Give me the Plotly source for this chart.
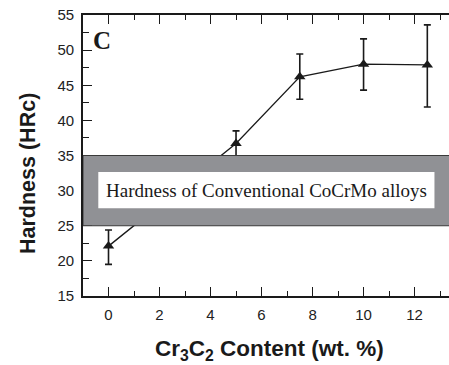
import plotly.graph_objects as go

x_content = [0, 5, 7.5, 10, 12.5]
hardness = [22.1, 36.7, 46.2, 48.0, 47.9]
err_plus = [2.3, 1.8, 3.25, 3.6, 5.7]
err_minus = [2.6, 1.8, 3.2, 3.7, 6.0]

x_ticks = [0, 2, 4, 6, 8, 10, 12]
y_ticks = [15, 20, 25, 30, 35, 40, 45, 50, 55]

band_low, band_high = 25, 35
band_label = "Hardness of Conventional CoCrMo alloys"

fig = go.Figure()
fig.add_trace(go.Scatter(
    x=x_content, y=hardness, mode="lines+markers",
    line=dict(color="#1a1a1a", width=1.3),
    marker=dict(symbol="triangle-up", size=10, color="#1a1a1a"),
    error_y=dict(type="data", array=err_plus, arrayminus=err_minus,
                 color="#1a1a1a", thickness=1.6, width=3.5),
    showlegend=False,
))

# grey band (drawn above data)
fig.add_shape(type="rect", xref="x", yref="y", x0=-1, x1=13.4,
              y0=band_low, y1=band_high, layer="above",
              fillcolor="#909195", line=dict(color="#3a3a3a", width=1))
fig.add_shape(type="rect", xref="x", yref="y", x0=-0.4, x1=12.78,
              y0=27.5, y1=32.65, layer="above",
              fillcolor="white", line=dict(width=0))
fig.add_annotation(x=(-0.4 + 12.78) / 2, y=30.05, xref="x", yref="y",
                   text=band_label, showarrow=False,
                   font=dict(family="Liberation Serif", size=19, color="#1a1a1a"))
fig.add_annotation(x=-0.27, y=51.4, xref="x", yref="y", text="<b>C</b>",
                   showarrow=False, xanchor="center", yanchor="middle",
                   font=dict(family="Liberation Serif", size=25, color="#1a1a1a"))

fig.update_layout(
    width=449, height=365,
    margin=dict(l=83, r=0, t=15, b=69),
    paper_bgcolor="white", plot_bgcolor="white",
    font=dict(family="Liberation Sans", color="#222"),
)
plot_w = 449 - 83
plot_h = 365 - 15 - 69
fig.add_annotation(xref="paper", yref="paper",
                   x=(269 - 83) / plot_w, y=(296 - 350) / plot_h,
                   text="<b>Cr<sub>3</sub>C<sub>2</sub> Content (wt. %)</b>",
                   showarrow=False, xanchor="center", yanchor="middle",
                   font=dict(family="Liberation Sans", size=22.5, color="#1a1a1a"))
fig.add_annotation(xref="paper", yref="paper",
                   x=(28 - 83) / plot_w, y=(296 - 174) / plot_h,
                   text="<b>Hardness (HRc)</b>", textangle=-90,
                   showarrow=False, xanchor="center", yanchor="middle",
                   font=dict(family="Liberation Sans", size=21.5, color="#1a1a1a"))

fig.update_xaxes(
    range=[-1, 13.35], tickmode="array", tickvals=x_ticks,
    showgrid=False, zeroline=False,
    showline=True, linecolor="#1a1a1a", linewidth=1.6, mirror="ticks",
    ticks="inside", ticklen=9, tickwidth=1.3, tickcolor="#1a1a1a",
    minor=dict(tick0=0, dtick=1, ticks="inside", ticklen=5, tickwidth=1.2, tickcolor="#1a1a1a"),
    tickfont=dict(size=15, color="#222"), ticklabelstandoff=4,
)
fig.update_yaxes(
    range=[15, 55], tickmode="array", tickvals=y_ticks,
    showgrid=False, zeroline=False,
    showline=True, linecolor="#1a1a1a", linewidth=1.6, mirror=False,
    ticks="inside", ticklen=9, tickwidth=1.3, tickcolor="#1a1a1a",
    minor=dict(tick0=15, dtick=2.5, ticks="inside", ticklen=6, tickwidth=1.2, tickcolor="#1a1a1a"),
    tickfont=dict(size=15, color="#222"), ticklabelstandoff=4,
)

fig.write_html("out.html")
